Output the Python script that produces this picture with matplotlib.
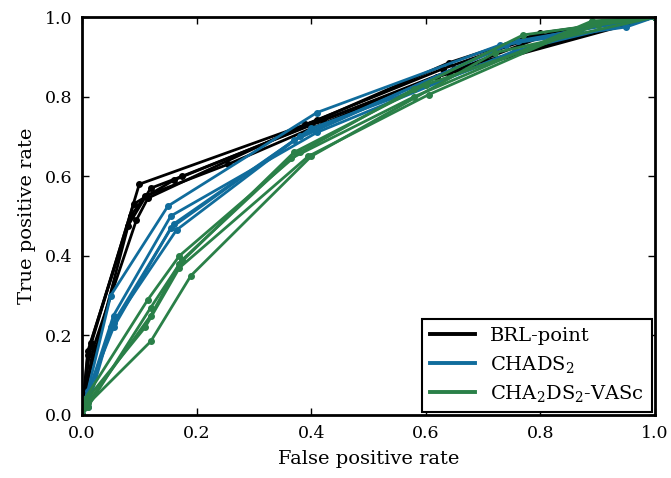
import matplotlib
matplotlib.use("Agg")
import matplotlib.pyplot as plt

# ROC curves (fpr, tpr) per fold
brl_fpr = [
    [0, 0.01, 0.10, 0.41, 0.64, 0.80, 1],
    [0, 0.015, 0.09, 0.16, 0.40, 0.64, 0.82, 1],
    [0, 0.01, 0.08, 0.12, 0.175, 0.42, 0.65, 1],
    [0, 0.005, 0.085, 0.11, 0.255, 0.40, 0.62, 1],
    [0, 0.02, 0.095, 0.115, 0.39, 0.63, 0.79, 1],
]
brl_tpr = [
    [0, 0.15, 0.58, 0.74, 0.885, 0.96, 1],
    [0, 0.18, 0.53, 0.59, 0.73, 0.86, 0.96, 1],
    [0, 0.16, 0.475, 0.57, 0.60, 0.74, 0.87, 1],
    [0, 0.06, 0.50, 0.55, 0.63, 0.72, 0.85, 1],
    [0, 0.17, 0.49, 0.545, 0.73, 0.87, 0.95, 1],
]

chads_fpr = [
    [0, 0.01, 0.05, 0.15, 0.41, 0.73, 0.95, 1],
    [0, 0.01, 0.055, 0.155, 0.41, 0.755, 1],
    [0, 0.005, 0.055, 0.155, 0.37, 0.74, 0.92, 1],
    [0, 0.01, 0.05, 0.16, 0.40, 0.87, 1],
    [0, 0.01, 0.055, 0.165, 0.38, 0.76, 1],
]
chads_tpr = [
    [0, 0.06, 0.30, 0.525, 0.76, 0.93, 0.975, 1],
    [0, 0.05, 0.25, 0.50, 0.71, 0.915, 1],
    [0, 0.04, 0.22, 0.47, 0.69, 0.93, 0.985, 1],
    [0, 0.02, 0.22, 0.48, 0.72, 0.97, 1],
    [0, 0.05, 0.23, 0.465, 0.70, 0.94, 1],
]

vasc_fpr = [
    [0, 0.005, 0.115, 0.17, 0.38, 0.58, 0.77, 1],
    [0, 0.01, 0.12, 0.175, 0.365, 0.58, 0.89, 1],
    [0, 0.003, 0.11, 0.17, 0.395, 0.605, 0.89, 1],
    [0, 0.005, 0.12, 0.19, 0.40, 0.72, 1],
    [0, 0.01, 0.12, 0.17, 0.37, 0.60, 0.90, 1],
]
vasc_tpr = [
    [0, 0.04, 0.29, 0.40, 0.66, 0.82, 0.955, 1],
    [0, 0.02, 0.27, 0.39, 0.645, 0.80, 0.99, 1],
    [0, 0.03, 0.22, 0.37, 0.65, 0.805, 0.985, 1],
    [0, 0.02, 0.185, 0.35, 0.65, 0.91, 1],
    [0, 0.03, 0.25, 0.38, 0.66, 0.83, 0.98, 1],
]

plt.rcParams["font.family"] = ["DejaVu Serif"]
plt.rcParams["mathtext.fontset"] = "dejavuserif"

fig = plt.figure(figsize=(6.71, 4.78), dpi=100)
ax = fig.add_axes([0.1222, 0.1318, 0.854, 0.8326])

methods = [
    (brl_fpr, brl_tpr, "black", "BRL-point"),
    (chads_fpr, chads_tpr, "#106c9c", r"CHADS$_2$"),
    (vasc_fpr, vasc_tpr, "#2a8048", r"CHA$_2$DS$_2$-VASc"),
]

for fprs, tprs, color, label in methods:
    for i in range(len(fprs)):
        ax.plot(fprs[i], tprs[i], color=color, lw=2, marker="o", ms=4,
                label=label if i == 0 else None)

ax.set_xlim(0, 1)
ax.set_ylim(0, 1)
ax.set_xticks([0, 0.2, 0.4, 0.6, 0.8, 1.0])
ax.set_yticks([0, 0.2, 0.4, 0.6, 0.8, 1.0])
ax.tick_params(direction="in", top=True, right=True, length=5, width=1, labelsize=12.5, pad=7)
for s in ax.spines.values():
    s.set_linewidth(2)
ax.set_xlabel("False positive rate", fontsize=14, labelpad=6)
ax.set_ylabel("True positive rate", fontsize=14, labelpad=6)

leg = ax.legend(loc="lower right", fontsize=14, fancybox=False, framealpha=1,
                edgecolor="black", handlelength=2.3, borderaxespad=0.15,
                labelspacing=0.45)
leg.get_frame().set_linewidth(1.5)
for h in leg.legend_handles:
    h.set_linewidth(2.8)
    h.set_marker("")

fig.savefig("out.png", dpi=100)
